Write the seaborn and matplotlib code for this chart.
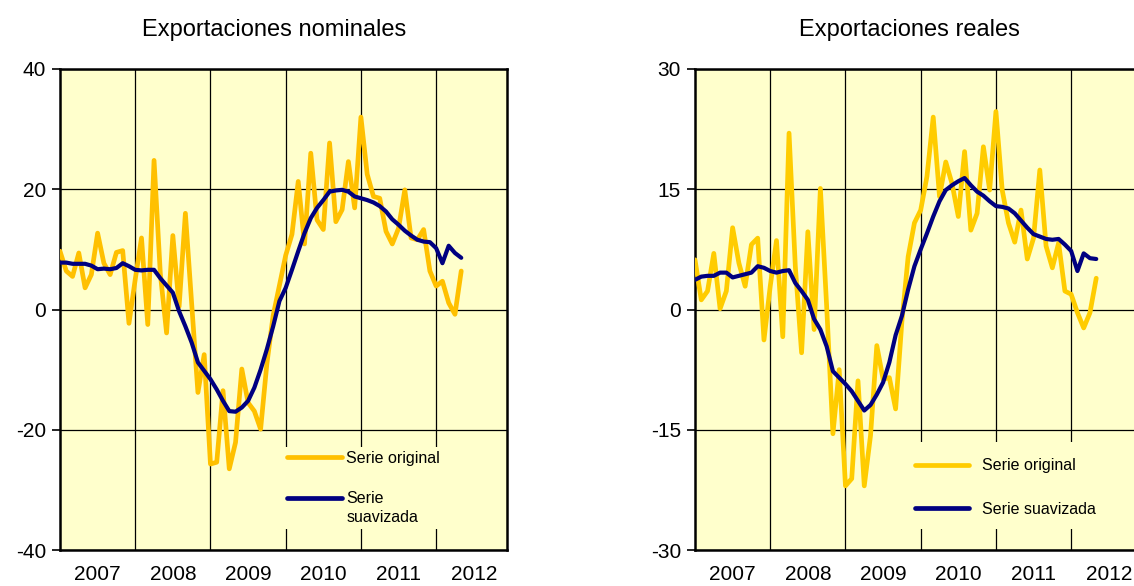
import numpy as np
import pandas as pd
import matplotlib
matplotlib.use("Agg")
import matplotlib.pyplot as plt
from matplotlib.patches import Rectangle
import seaborn as sns

# ---------------- data (monthly, Jan 2007 - May 2012) ----------------
nom_original = [9.7, 6.4, 5.5, 9.4, 3.6, 5.8, 12.7, 7.7, 5.8, 9.5,
                9.8, -2.3, 5.0, 11.9, -2.5, 24.8, 6.0, -3.9, 12.3, 0.5,
                16.0, 1.0, -13.8, -7.5, -25.7, -25.4, -13.5, -26.5, -22.1, -9.9,
                -15.5, -16.9, -19.9, -9.0, -1.0, 4.0, 9.0, 12.5, 21.3, 10.9,
                26.0, 14.9, 13.3, 27.7, 14.6, 16.6, 24.6, 16.9, 32.0, 22.5,
                18.8, 18.5, 13.0, 10.9, 13.5, 19.9, 11.9, 11.6, 13.3, 6.4,
                3.9, 4.7, 1.1, -0.8, 6.4]
nom_suavizada = [7.8, 7.8, 7.6, 7.6, 7.6, 7.3, 6.7, 6.8, 6.7, 6.9,
                 7.7, 7.2, 6.6, 6.5, 6.6, 6.6, 5.2, 4.0, 2.8, -0.3,
                 -2.8, -5.5, -8.8, -10.2, -11.6, -13.3, -15.2, -16.9, -17.0, -16.3,
                 -15.2, -13.0, -10.0, -6.6, -2.8, 1.4, 3.6, 6.6, 9.7, 12.7,
                 15.2, 16.9, 18.2, 19.6, 19.8, 19.9, 19.6, 18.8, 18.5, 18.2,
                 17.8, 17.2, 16.3, 15.0, 14.1, 13.1, 12.3, 11.6, 11.3, 11.2,
                 10.2, 7.7, 10.6, 9.4, 8.6]
real_original = [6.2, 1.2, 2.3, 7.0, 0.1, 2.3, 10.2, 5.8, 2.9, 8.1,
                 8.9, -3.8, 2.9, 8.6, -3.4, 22.0, 5.4, -5.4, 9.7, -2.5,
                 15.1, 0.4, -15.5, -7.5, -22.0, -21.1, -8.9, -22.0, -15.7, -4.5,
                 -8.7, -8.5, -12.4, -1.5, 6.6, 10.8, 12.4, 16.6, 24.0, 14.1,
                 18.4, 15.7, 11.6, 19.7, 9.9, 12.0, 20.3, 14.9, 24.7, 14.9,
                 10.8, 8.4, 12.4, 6.3, 8.9, 17.4, 7.9, 5.2, 8.3, 2.3,
                 1.9, -0.4, -2.3, -0.4, 3.9]
real_suavizada = [3.7, 4.1, 4.2, 4.2, 4.6, 4.6, 4.0, 4.2, 4.4, 4.6,
                  5.4, 5.2, 4.8, 4.6, 4.8, 4.9, 3.3, 2.3, 1.2, -1.2,
                  -2.5, -4.6, -7.7, -8.5, -9.3, -10.2, -11.4, -12.6, -11.9, -10.6,
                  -9.1, -6.6, -3.2, -0.8, 2.5, 5.4, 7.5, 9.5, 11.6, 13.5,
                  14.9, 15.5, 16.0, 16.4, 15.5, 14.7, 14.2, 13.5, 12.9, 12.8,
                  12.6, 12.0, 11.1, 10.2, 9.4, 9.1, 8.8, 8.7, 8.8, 8.1,
                  7.3, 4.8, 7.0, 6.4, 6.3]
years = ["2007", "2008", "2009", "2010", "2011", "2012"]
titles = ["Exportaciones nominales", "Exportaciones reales"]
yticks_nom = [-40, -20, 0, 20, 40]
yticks_real = [-30, -15, 0, 15, 30]

# ---------------- style ----------------
sns.set_style("white")
plt.rcParams["font.family"] = ["Liberation Sans", "DejaVu Sans"]
for k in ("text.color", "xtick.color", "ytick.color", "axes.labelcolor"):
    plt.rcParams[k] = "black"

BG = "#FFFFCC"
ORANGE_L = "#FFC000"
ORANGE_R = "#FFCC00"
NAVY = "#000080"

fig = plt.figure(figsize=(11.34, 5.86), dpi=100)
W, H = 1134.0, 586.0
ax1 = fig.add_axes([60 / W, 36 / H, 447 / W, 481 / H])
ax2 = fig.add_axes([695 / W, 36 / H, 447 / W, 481 / H])

months = np.arange(len(nom_original))


def draw(ax, orig, smooth, yticks, title, orange, smooth_label):
    df = pd.DataFrame({"mes": months, "orig": orig, "suav": smooth})
    sns.lineplot(data=df, x="mes", y="orig", ax=ax, color=orange, lw=3.4,
                 label="Serie original", estimator=None, zorder=3)
    sns.lineplot(data=df, x="mes", y="suav", ax=ax, color=NAVY, lw=3.0,
                 label=smooth_label, estimator=None, zorder=4)
    ax.set_facecolor(BG)
    ax.set_xlim(0, 71.3)
    ax.set_ylim(yticks[0], yticks[-1])
    ax.set_xlabel("")
    ax.set_ylabel("")
    ax.set_title(title, fontsize=17, pad=24, x=0.479, color="black")
    ax.set_xticks([12, 24, 36, 48, 60])
    ax.set_xticklabels([])
    ax.set_xticks([6 + 12 * i for i in range(len(years))], minor=True)
    ax.set_xticklabels(years, minor=True, fontsize=15)
    ax.tick_params(axis="x", which="both", length=0, pad=11, colors="black")
    ax.set_yticks(yticks)
    ax.set_yticklabels([str(v) for v in yticks], fontsize=15)
    ax.tick_params(axis="y", length=6, width=1.2, direction="out", pad=4,
                   left=True, colors="black")
    ax.grid(True, which="major", color="black", lw=0.9)
    ax.set_axisbelow(True)
    for s in ax.spines.values():
        s.set_visible(True)
        s.set_color("black")
        s.set_linewidth(1.8)
    return ax


draw(ax1, nom_original, nom_suavizada, yticks_nom, titles[0], ORANGE_L, "Serie")
draw(ax2, real_original, real_suavizada, yticks_real, titles[1], ORANGE_R,
     "Serie suavizada")

# legend background patches (hide gridlines behind legends)
ax1.add_patch(Rectangle((0.494, 0.0437), 0.45, 0.171, transform=ax1.transAxes,
                        facecolor=BG, edgecolor="none", zorder=2))
ax2.add_patch(Rectangle((0.47, 0.0437), 0.53, 0.181, transform=ax2.transAxes,
                        facecolor=BG, edgecolor="none", zorder=2))

leg1 = ax1.legend(loc="upper left", bbox_to_anchor=(0.494, 0.2195),
                  borderaxespad=0, fontsize=11.5, frameon=False,
                  handlelength=3.4, handletextpad=0.3, labelspacing=1.6,
                  labelcolor="black")
leg2 = ax2.legend(loc="upper left", bbox_to_anchor=(0.478, 0.204),
                  borderaxespad=0, fontsize=11.5, frameon=False,
                  handlelength=3.4, handletextpad=0.8, labelspacing=1.79,
                  labelcolor="black")
for leg in (leg1, leg2):
    for h in leg.get_lines():
        h.set_linewidth(3.4)

# second line of the wrapped left legend label
fig.canvas.draw()
t = leg1.get_texts()[1]
bb = t.get_window_extent()
fig.text(bb.x0 / W, (bb.y0 - 19) / H, "suavizada", fontsize=11.5,
         ha="left", va="bottom", color="black")

fig.savefig("out.png", dpi=100)
